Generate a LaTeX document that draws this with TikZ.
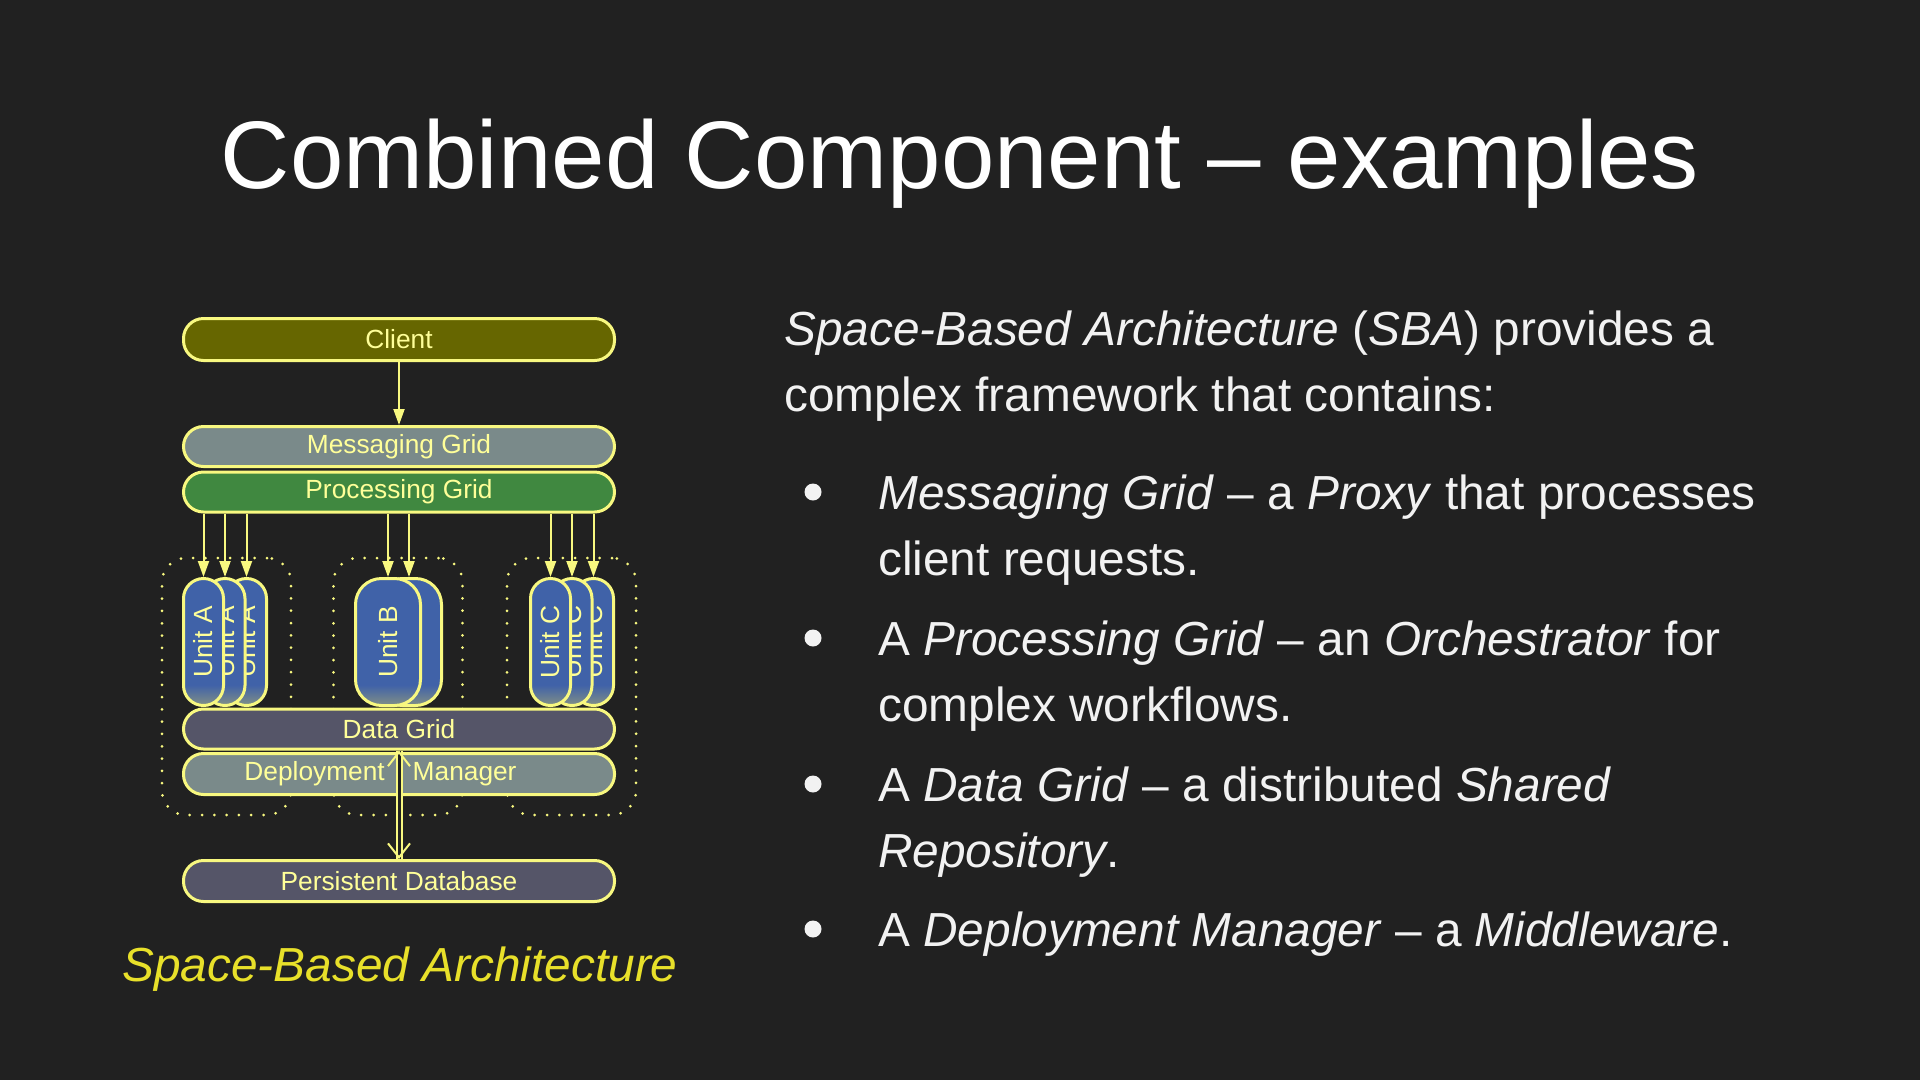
\documentclass[tikz,border=0pt]{standalone}
\usepackage{fontspec}
\usepackage{graphicx}
\setmainfont{Liberation Sans}
\usetikzlibrary{arrows.meta}

\definecolor{slidebg}{HTML}{212121}
\definecolor{bodytext}{HTML}{F2F2F2}
\definecolor{edge}{HTML}{F8F880}
\definecolor{labeltext}{HTML}{FFFF99}
\definecolor{clientfill}{HTML}{666600}
\definecolor{msgfill}{HTML}{7A8A8A}
\definecolor{procfill}{HTML}{408840}
\definecolor{datafill}{HTML}{555568}
\definecolor{unitblue}{HTML}{4062A8}
\definecolor{captionyellow}{HTML}{E8E02A}

\pgfdeclareverticalshading{unitfade}{100bp}{color(0bp)=(msgfill); color(26bp)=(msgfill); color(33bp)=(unitblue); color(100bp)=(unitblue)}

\newcommand{\boxfont}{\fontsize{26.3}{30}\selectfont}
\newcommand{\bodyfont}{\fontsize{47.8}{56}\selectfont}

\begin{document}
\begin{tikzpicture}[
  x=1pt,y=-1pt,
  >={Triangle[length=16pt,width=11pt]},
  band/.style={draw=edge,line width=3pt,rounded corners=20pt,minimum width=431pt,
    minimum height=40pt,inner sep=0pt,text=labeltext,font=\boxfont},
  unitbox/.style={draw=edge,line width=3pt,rounded corners=20pt,minimum width=40pt,
    minimum height=127pt,inner sep=0pt,text=labeltext,font=\boxfont,shading=unitfade},
  group/.style={draw=edge,line width=3pt,line cap=round,dash pattern=on 0pt off 12.3pt,
    rounded corners=24pt,minimum width=129pt,minimum height=257pt,inner sep=0pt},
  flow/.style={->,draw=edge,line width=2pt},
  barb/.tip={Straight Barb[color=edge,length=14pt,width=22pt,line width=2pt]},
  link/.style={draw=edge,line width=2pt,double=slidebg,double distance=3pt},
  linktips/.style={barb-barb,draw=slidebg,line width=2pt},
  line/.style={anchor=base west,text=bodytext,font=\bodyfont,inner sep=0pt},
  dotmark/.style={circle,fill=bodytext,minimum size=17pt,inner sep=0pt}
]
  \useasboundingbox (0,0) rectangle (1920,1080);
  \fill[slidebg] (0,0) rectangle (1920,1080);

  \node[anchor=base,text=white,font=\fontsize{96}{110}\selectfont] (title) at (960,188)
    {Combined Component – examples};

  % processing unit groups
  \node[group] (grpA) at (226.5,686.5) {};
  \node[group] (grpB) at (398,686.5) {};
  \node[group] (grpC) at (571.5,686.5) {};

  \node[band,fill=clientfill,minimum height=42pt] (client) at (399,339.5) {Client};
  \node[band,fill=msgfill] (msg) at (399,446.5) {Messaging Grid};
  \node[band,fill=procfill] (proc) at (399,492) {Processing Grid};

  \foreach \i in {2,1,0}
    \node[unitbox] (unitA\i) at (203.5+21.5*\i,642) {\rotatebox{90}{Unit A}};
  \foreach \i in {1,0}
    \node[unitbox,minimum width=65pt,rounded corners=26pt] (unitB\i) at (388+21*\i,642) {\rotatebox{90}{Unit B}};
  \foreach \i in {2,1,0}
    \node[unitbox] (unitC\i) at (550.5+21.5*\i,642) {\rotatebox{90}{Unit C}};

  \node[band,fill=datafill] (data) at (399,729) {Data Grid};
  \node[band,fill=msgfill,minimum height=41pt] (deploy) at (399,774)
    {Deployment\kern28pt Manager\kern37pt};
  \node[band,fill=datafill,minimum height=41pt] (db) at (399,881) {Persistent Database};

  \draw[flow] (client) -- (msg);
  \foreach \u in {unitA0,unitA1,unitA2,unitB0,unitB1,unitC0,unitC1,unitC2}
    \draw[flow] (proc.south -| \u.north) -- (\u.north);
  \draw[link] (data.south) -- (db.north);
  \draw[linktips] (data.south) -- (db.north);

  \node[anchor=base,text=captionyellow,font=\bodyfont\itshape] (caption) at (400,981)
    {Space-Based Architecture};

  % description
  \node[line] (intro1) at (784,345) {\textit{Space-Based Architecture} (\textit{SBA}) provides a};
  \node[line] (intro2) at (784,411) {complex framework that contains:};
  \node[dotmark] (dot1) at (813,492) {};
  \node[line] (item1a) at (878,509) {\textit{Messaging Grid} – a \textit{Proxy} that processes};
  \node[line] (item1b) at (878,575) {client requests.};
  \node[dotmark] (dot2) at (813,638) {};
  \node[line] (item2a) at (878,655) {A \textit{Processing Grid} – an \textit{Orchestrator} for};
  \node[line] (item2b) at (878,721) {complex workflows.};
  \node[dotmark] (dot3) at (813,784) {};
  \node[line] (item3a) at (878,801) {A \textit{Data Grid} – a distributed \textit{Shared}};
  \node[line] (item3b) at (878,867) {\textit{Repository}.};
  \node[dotmark] (dot4) at (813,929) {};
  \node[line] (item4a) at (878,946) {A \textit{Deployment Manager} – a \textit{Middleware}.};
\end{tikzpicture}
\end{document}
